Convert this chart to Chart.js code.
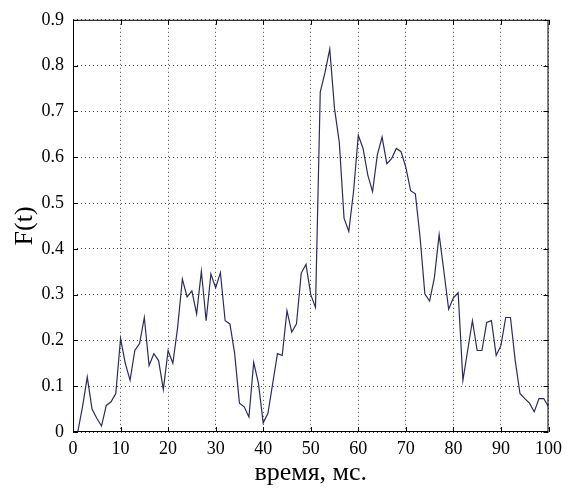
<!DOCTYPE html>
<html>
<head>
<meta charset="utf-8">
<script src="https://cdn.jsdelivr.net/npm/chart.js@4/dist/chart.umd.min.js"></script>
<style>
  html, body { margin: 0; padding: 0; background: #fff; }
  #wrap { width: 568px; height: 489px; }
</style>
</head>
<body>
<div id="wrap"><canvas id="myChart"></canvas></div>
<script>
// time in ms, 1 ms step
const times = [];
for (let t = 1; t <= 100; t++) times.push(t);

const fValues = [
  0.0, 0.055, 0.12, 0.05, 0.03, 0.013, 0.058, 0.066, 0.084, 0.204,
  0.15, 0.113, 0.178, 0.193, 0.25, 0.145, 0.171, 0.156, 0.093, 0.178,
  0.15, 0.228, 0.334, 0.295, 0.308, 0.258, 0.351, 0.243, 0.345, 0.315,
  0.348, 0.243, 0.236, 0.171, 0.063, 0.055, 0.033, 0.152, 0.106, 0.02,
  0.041, 0.106, 0.171, 0.167, 0.265, 0.218, 0.236, 0.347, 0.366, 0.30,
  0.272, 0.742, 0.785, 0.836, 0.706, 0.633, 0.467, 0.438, 0.525, 0.648,
  0.619, 0.561, 0.525, 0.605, 0.644, 0.586, 0.597, 0.619, 0.612, 0.578,
  0.527, 0.52, 0.424, 0.301, 0.286, 0.337, 0.431, 0.351, 0.268, 0.293,
  0.304, 0.113, 0.178, 0.243, 0.178, 0.178, 0.239, 0.243, 0.167, 0.189,
  0.25, 0.25, 0.156, 0.084, 0.073, 0.063, 0.044, 0.073, 0.073, 0.055
];

const xTicks = [0, 10, 20, 30, 40, 50, 60, 70, 80, 90, 100];
const yTicks = [0, 0.1, 0.2, 0.3, 0.4, 0.5, 0.6, 0.7, 0.8, 0.9];

const serif = "'Liberation Serif', 'Times New Roman', serif";

// box around the plot with inward tick marks on every side
const boxTicks = {
  id: "boxTicks",
  afterDraw(chart) {
    const { ctx, chartArea: a, scales } = chart;
    ctx.save();
    ctx.strokeStyle = "#000";
    ctx.lineWidth = 1;
    ctx.strokeRect(a.left + 0.5, a.top + 0.5, a.right - a.left - 1, a.bottom - a.top - 1);
    const len = 5;
    ctx.beginPath();
    xTicks.forEach((v) => {
      const px = Math.round(scales.x.getPixelForValue(v)) + 0.5;
      ctx.moveTo(px, a.bottom); ctx.lineTo(px, a.bottom - len);
      ctx.moveTo(px, a.top); ctx.lineTo(px, a.top + len);
    });
    yTicks.forEach((v) => {
      const py = Math.round(scales.y.getPixelForValue(v)) + 0.5;
      ctx.moveTo(a.left, py); ctx.lineTo(a.left + len, py);
      ctx.moveTo(a.right, py); ctx.lineTo(a.right - len, py);
    });
    ctx.stroke();
    ctx.restore();
  },
};

const ctx = document.getElementById("myChart");

const myChart = new Chart(ctx, {
  type: "line",
  data: {
    labels: times,
    datasets: [
      {
        data: times.map((t, i) => ({ x: t, y: fValues[i] })),
        borderColor: "#2b2b5e",
        borderWidth: 1.2,
        pointRadius: 0,
        tension: 0,
        fill: false,
      },
    ],
  },
  options: {
    responsive: true,
    maintainAspectRatio: false,
    animation: false,
    layout: { padding: { top: 17, right: 15, left: 0, bottom: 0 } },
    scales: {
      x: {
        type: "linear",
        min: 0,
        max: 100,
        afterBuildTicks: (s) => { s.ticks = xTicks.map((v) => ({ value: v })); },
        afterFit: (s) => { s.height = 57; },
        grid: {
          color: "#444",
          lineWidth: 1,
          drawTicks: false,
        },
        border: { display: false, dash: [1, 3] },
        ticks: {
          color: "#000",
          padding: 6,
          maxRotation: 0,
          font: { family: serif, size: 18 },
        },
        title: {
          display: true,
          text: "время, мс.",
          color: "#000",
          padding: { top: 2, bottom: 0 },
          font: { family: serif, size: 26 },
        },
      },
      y: {
        min: 0,
        max: 0.9,
        afterBuildTicks: (s) => { s.ticks = yTicks.map((v) => ({ value: v })); },
        afterFit: (s) => { s.width = 73; },
        grid: {
          color: "#444",
          lineWidth: 1,
          drawTicks: false,
        },
        border: { display: false, dash: [1, 3] },
        ticks: {
          color: "#000",
          padding: 9,
          font: { family: serif, size: 18 },
          callback: (v) => (v === 0 ? "0" : v.toFixed(1)),
        },
        title: {
          display: true,
          text: "F(t)",
          color: "#000",
          padding: { top: 10, bottom: 0 },
          font: { family: serif, size: 26 },
        },
      },
    },
    plugins: {
      legend: { display: false },
      tooltip: { enabled: false },
    },
  },
  plugins: [boxTicks],
});
</script>
</body>
</html>
